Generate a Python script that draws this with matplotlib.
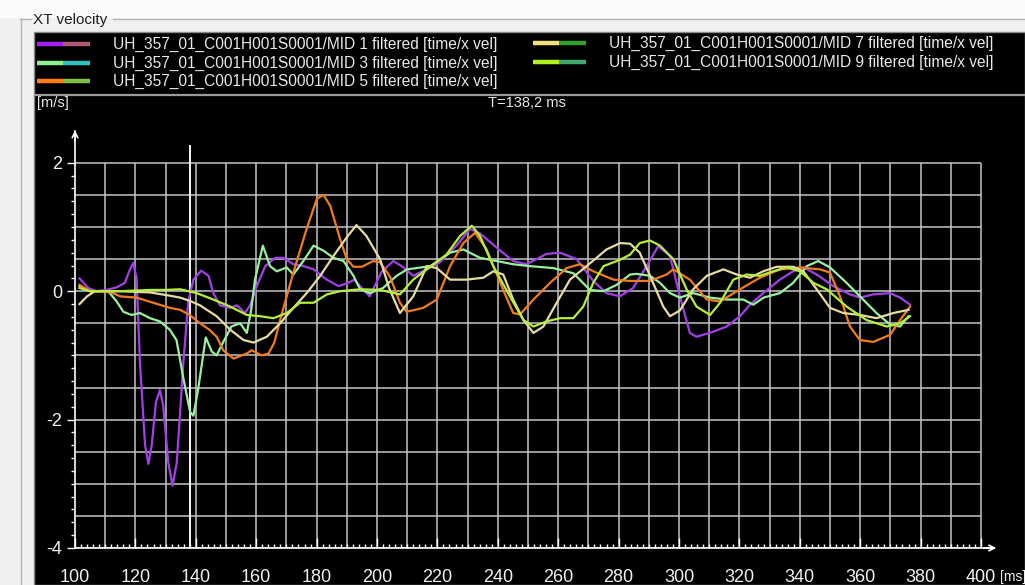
import numpy as np
import matplotlib
matplotlib.use("Agg")
import matplotlib.pyplot as plt
from matplotlib.lines import Line2D
from matplotlib.patches import Rectangle
from matplotlib.ticker import FixedLocator

plt.rcParams['font.family'] = ['Liberation Sans', 'DejaVu Sans']

W, H = 1025, 585

# ---- data ----
series_names = [
    "UH_357_01_C001H001S0001/MID 1 filtered [time/x vel]",
    "UH_357_01_C001H001S0001/MID 3 filtered [time/x vel]",
    "UH_357_01_C001H001S0001/MID 5 filtered [time/x vel]",
    "UH_357_01_C001H001S0001/MID 7 filtered [time/x vel]",
    "UH_357_01_C001H001S0001/MID 9 filtered [time/x vel]",
]
line_colors = ['#a23fe6', '#98f0a0', '#f07c1e', '#e6dca2', '#b6ee3c']
legend_colors = [('#a020f0', '#b05878'), ('#90f090', '#30c0c0'), ('#ff8010', '#80c040'),
                 ('#f0e080', '#30a030'), ('#b0f020', '#40a868')]

t_mid1 = [101.5, 104.4, 107.1, 110.4, 113.8, 116.5, 118.2, 119.3, 120.4, 121.5, 123.2, 124.3, 125.4, 126.8,
          128.1, 129.2, 130.9, 132.3, 133.7, 135.9, 137.5, 139.2, 141.8, 144.2, 145.8, 148, 151.4, 153.6,
          156.3, 158, 160.2, 163, 166.3, 169, 172.3, 175.1, 179, 183.4, 187.2, 190, 192.5, 195, 197.6,
          201.5, 205.4, 208.5, 212, 216.4, 220.8, 226.3, 230.8, 234.1, 239.6, 245.1, 249.5, 252.8, 256.1,
          260.6, 266.1, 271.6, 276, 280.4, 284.8, 289.3, 293.1, 297, 300.3, 303.6, 305.8, 311.4, 315.8,
          320.2, 323.5, 327.9, 333.4, 337.8, 341.2, 345.6, 351.1, 356.6, 359.9, 364.3, 369.9, 373.2, 376.5]
v_mid1 = [0.2, 0.05, 0.0, 0.02, 0.06, 0.13, 0.34, 0.44, 0.2, -1.1, -2.4, -2.69, -2.4, -1.73,
          -1.54, -1.78, -2.67, -3.03, -2.67, -1.1, -0.16, 0.18, 0.32, 0.24, -0.03, -0.22, -0.26, -0.22,
          -0.34, -0.22, 0.08, 0.39, 0.52, 0.52, 0.42, 0.40, 0.34, 0.18, 0.08, 0.12, 0.18, 0.05, -0.08,
          0.3, 0.47, 0.38, 0.24, 0.34, 0.45, 0.71, 0.97, 0.9, 0.68, 0.47, 0.42, 0.5, 0.58,
          0.6, 0.5, 0.16, -0.03, -0.08, 0.05, 0.39, 0.7, 0.55, -0.08, -0.65, -0.71, -0.63, -0.55,
          -0.39, -0.21, -0.03, 0.18, 0.31, 0.37, 0.26, 0.08, -0.05, -0.1, -0.05, -0.03, -0.1, -0.21]

t_mid3 = [101.5, 105, 111, 113.8, 116, 118.7, 121.5, 124.8, 128.1, 131.4, 133.6, 135.9, 138.1, 139.2,
          140.8, 143.3, 145.3, 146.9, 149, 151.8, 154.7, 156.9, 158.3, 159.6, 162.2, 164.6, 166.8, 170.1,
          172.3, 175.6, 179, 182.3, 185.6, 188.9, 192.2, 194.4, 197.6, 202, 206.5, 210, 217.6, 224.2, 228.6,
          234.1, 239.6, 245.1, 250.7, 258.4, 265, 270.5, 275, 279.4, 283.8, 286, 290.4, 293.7, 297, 300.3,
          304.7, 310.3, 315.8, 321.3, 324.6, 328, 333.4, 337.8, 342.3, 346.1, 350, 355.5, 359.9, 365.4,
          369.9, 373.2, 376]
v_mid3 = [0.08, 0.0, 0.0, -0.16, -0.32, -0.37, -0.34, -0.42, -0.47, -0.6, -0.76, -1.36, -1.88, -1.94,
          -1.52, -0.72, -0.94, -1.0, -0.8, -0.55, -0.5, -0.65, -0.3, 0.18, 0.71, 0.39, 0.31, 0.37,
          0.26, 0.47, 0.71, 0.63, 0.52, 0.47, 0.24, 0.03, -0.03, 0.05, 0.24, 0.34, 0.39, 0.6, 0.65,
          0.52, 0.47, 0.42, 0.39, 0.36, 0.28, 0.02, 0.0, 0.1, 0.26, 0.27, 0.24, 0.13, -0.03, -0.1,
          -0.03, -0.1, -0.13, -0.13, -0.21, -0.1, -0.03, 0.13, 0.39, 0.47, 0.37, 0.13, -0.08, -0.34,
          -0.52, -0.55, -0.39]

t_mid5 = [101.5, 105, 109.3, 112.6, 114.9, 120.4, 125.9, 131.4, 134.8, 138, 141.4, 144.5, 146.9, 149.1,
          152.5, 156.9, 158.5, 161.8, 164.1, 166, 167.9, 172.3, 176.7, 180.1, 182.3, 184.5, 187.8, 190,
          192.2, 195, 198.7, 201, 204.3, 207.6, 209.8, 215.3, 219.8, 224.2, 228.6, 232.5, 236.3, 241.8,
          245.1, 247.4, 251.8, 257.3, 262.8, 267.2, 271.6, 278.3, 283.8, 290.4, 295.9, 298.1, 303.6, 309.2,
          313.6, 320.2, 326.8, 333.4, 340.1, 346.7, 350, 353.3, 356.6, 359.9, 364.3, 369.9, 373.2, 376.5]
v_mid5 = [0.1, 0.0, 0.0, -0.03, -0.08, -0.1, -0.18, -0.26, -0.29, -0.37, -0.5, -0.6, -0.71, -0.92,
          -1.05, -0.97, -0.92, -1.0, -0.97, -0.8, -0.45, 0.29, 0.97, 1.44, 1.5, 1.33, 0.81, 0.5,
          0.38, 0.38, 0.47, 0.45, 0.23, -0.18, -0.32, -0.26, -0.13, 0.39, 0.75, 0.91, 0.65, 0.02,
          -0.34, -0.36, -0.13, 0.13, 0.36, 0.42, 0.31, 0.18, 0.16, 0.16, 0.26, 0.34, 0.18, -0.13,
          -0.16, 0.03, 0.21, 0.34, 0.37, 0.34, 0.29, -0.08, -0.55, -0.76, -0.79, -0.68, -0.45, -0.24]

t_mid7 = [101.5, 104, 106.6, 115, 125, 131.4, 134.8, 138, 141.4, 146.9, 151.4, 155.8, 159.1, 163.5,
          167.9, 172.3, 176.7, 181.2, 185.6, 190, 193.2, 196.5, 201, 204, 207.6, 212, 216.5, 219.8,
          224.2, 229.7, 235.2, 238.5, 241.8, 245.1, 248.5, 251.8, 255.1, 259.5, 263.9, 269.4, 276, 280.5,
          283.8, 287, 290.4, 294.8, 297, 300.3, 304.7, 309.2, 314.7, 319.1, 323.5, 327.9, 332.3, 337.8,
          341.2, 345.6, 350, 354.4, 359.9, 365.4, 371, 376]
v_mid7 = [-0.2, -0.08, 0.0, 0.0, -0.02, -0.07, -0.1, -0.15, -0.22, -0.39, -0.6, -0.76, -0.8, -0.71,
          -0.5, -0.26, -0.03, 0.24, 0.55, 0.84, 1.03, 0.86, 0.5, 0.05, -0.34, -0.08, 0.39, 0.36,
          0.18, 0.18, 0.21, 0.31, 0.26, -0.13, -0.45, -0.65, -0.55, -0.18, 0.18, 0.39, 0.65, 0.75,
          0.74, 0.6, 0.24, -0.24, -0.39, -0.3, 0.03, 0.24, 0.34, 0.26, 0.21, 0.31, 0.38, 0.38,
          0.31, 0.03, -0.26, -0.34, -0.37, -0.42, -0.34, -0.29]

t_mid9 = [101.5, 105, 115, 125, 130, 134.8, 140.3, 145.8, 151.4, 156.9, 161.3, 165.7, 170.1, 174.5,
          179, 183.4, 187.8, 194.4, 201, 207.6, 212, 216.5, 223, 227.5, 231.4, 234.1, 238.5, 244,
          248.5, 251.8, 256.2, 260.6, 265, 268.3, 271.6, 275, 280.5, 283.8, 287, 290.4, 293.7, 298.1,
          302.5, 305.8, 310.3, 313.6, 318, 322.4, 326.8, 331.2, 335.6, 340.1, 344.5, 348.9, 355.5, 362.1,
          368.8, 373.2, 376.5]
v_mid9 = [0.05, 0.0, 0.0, 0.02, 0.02, 0.03, -0.03, -0.13, -0.24, -0.37, -0.39, -0.42, -0.34, -0.18,
          -0.18, -0.05, 0.0, 0.03, 0.02, -0.05, 0.18, 0.34, 0.57, 0.86, 1.02, 0.86, 0.39, -0.08,
          -0.45, -0.55, -0.47, -0.42, -0.42, -0.24, 0.13, 0.39, 0.49, 0.57, 0.75, 0.79, 0.71, 0.5,
          0.03, -0.24, -0.37, -0.18, 0.18, 0.26, 0.24, 0.31, 0.37, 0.31, 0.13, 0.03, -0.24, -0.45,
          -0.55, -0.5, -0.39]

cursor_t = 138.2
x_ticks = list(range(100, 401, 20))
y_ticks = [2, 0, -2, -4]
x_grid = list(range(110, 401, 10))
y_grid = list(np.arange(-4, 2.01, 0.5))


def fx(px):
    return px / W


def fy(py):
    return 1 - py / H


fig = plt.figure(figsize=(W / 100, H / 100), dpi=100)
fig.patch.set_facecolor('#f0f0f0')

# window chrome: white strip, group box, black panel (kept below the axes)
fig.add_artist(Rectangle((0, fy(18)), 1, 1 - fy(18), transform=fig.transFigure,
                         facecolor='#fbfbfb', edgecolor='none', zorder=-3))
fig.add_artist(Line2D([fx(20), fx(31)], [fy(19), fy(19)], color='#b4b4b4', lw=1, zorder=-2))
fig.add_artist(Line2D([fx(113), 1], [fy(19), fy(19)], color='#b4b4b4', lw=1, zorder=-2))
fig.add_artist(Line2D([fx(21), fx(21)], [fy(19), 0], color='#b4b4b4', lw=1, zorder=-2))
fig.text(fx(33), fy(20), "XT velocity", fontsize=11, color='#202020', va='center', ha='left')
fig.add_artist(Rectangle((fx(34), 0), 1 - fx(34), fy(32), transform=fig.transFigure,
                         facecolor='black', edgecolor='#8a8a8a', lw=1, zorder=-2))
fig.add_artist(Line2D([fx(35), 1], [fy(95), fy(95)], color='#9a9a9a', lw=1.6, zorder=-1))

# legend (two columns, two-coloured samples)
leg_pos = [(37, 44), (37, 63), (37, 81), (533, 43), (533, 62)]
for name, (c1, c2), (lx, ly) in zip(series_names, legend_colors, leg_pos):
    fig.add_artist(Line2D([fx(lx), fx(lx + 26)], [fy(ly), fy(ly)], color=c1, lw=3.2, solid_capstyle='butt'))
    fig.add_artist(Line2D([fx(lx + 26), fx(lx + 53)], [fy(ly), fy(ly)], color=c2, lw=3.2, solid_capstyle='butt'))
    fig.text(fx(lx + 76), fy(ly), name, fontsize=11.2, color='#e8e8e8', va='center', ha='left')

fig.text(fx(37), fy(103), "[m/s]", fontsize=10.5, color='#e8e8e8', va='center', ha='left')
fig.text(fx(527), fy(103), "T=138,2 ms", fontsize=10.5, color='#e8e8e8', va='center', ha='center')

# plot area: 100 ms at x=75px, 400 ms at x=981px; 0 m/s at y=291px, -4 at y=548px
ax = fig.add_axes([fx(75), fy(548), (981 - 75) / 300 * 304 / W, 6.5 * 64.2 / H])
ax.set_facecolor('none')
ax.set_xlim(100, 404)
ax.set_ylim(-4, 2.5)

ax.hlines(y_grid, 100, 400, color='#c4c4c4', lw=1.1, zorder=1)
ax.vlines(x_grid, -4, 2, color='#c4c4c4', lw=1.1, zorder=1)
ax.vlines(cursor_t, -4, 2.27, color='#f4f4f4', lw=1.4, zorder=2)

series = [(t_mid1, v_mid1), (t_mid3, v_mid3), (t_mid5, v_mid5), (t_mid7, v_mid7), (t_mid9, v_mid9)]
for (t, v), c in zip(series, line_colors):
    ax.plot(t, v, color=c, lw=1.6, zorder=3, solid_joinstyle='round')

for side in ['top', 'right']:
    ax.spines[side].set_visible(False)
for side in ['left', 'bottom']:
    ax.spines[side].set_color('white')
    ax.spines[side].set_linewidth(1.2)
ax.annotate('', xy=(100, 2.55), xytext=(100, 2.3), annotation_clip=False,
            arrowprops=dict(arrowstyle='->', color='white', lw=1.2))
ax.annotate('', xy=(406, -4), xytext=(400, -4), annotation_clip=False,
            arrowprops=dict(arrowstyle='->', color='white', lw=1.2))

ax.set_xticks(x_ticks)
ax.set_xticklabels([str(x) for x in x_ticks])
ax.xaxis.set_minor_locator(FixedLocator(np.arange(100, 401, 2)))
ax.set_yticks(y_ticks)
ax.set_yticklabels([str(y) for y in y_ticks])
ax.yaxis.set_minor_locator(FixedLocator(np.arange(-4, 2.01, 0.2)))
ax.tick_params(axis='x', which='major', direction='in', length=7, color='white', labelcolor='#f0f0f0',
               labelsize=13, pad=15, width=1)
ax.tick_params(axis='x', which='minor', direction='in', length=3, color='white', width=1)
ax.tick_params(axis='y', which='major', direction='out', length=6, color='white', labelcolor='#f0f0f0',
               labelsize=13, pad=3, width=1)
ax.tick_params(axis='y', which='minor', direction='out', length=3, color='white', width=1)

fig.text(fx(1000), fy(577), "[ms]", fontsize=10, color='#f0f0f0', va='center', ha='left')

fig.savefig("out.png", dpi=100, facecolor=fig.get_facecolor())
